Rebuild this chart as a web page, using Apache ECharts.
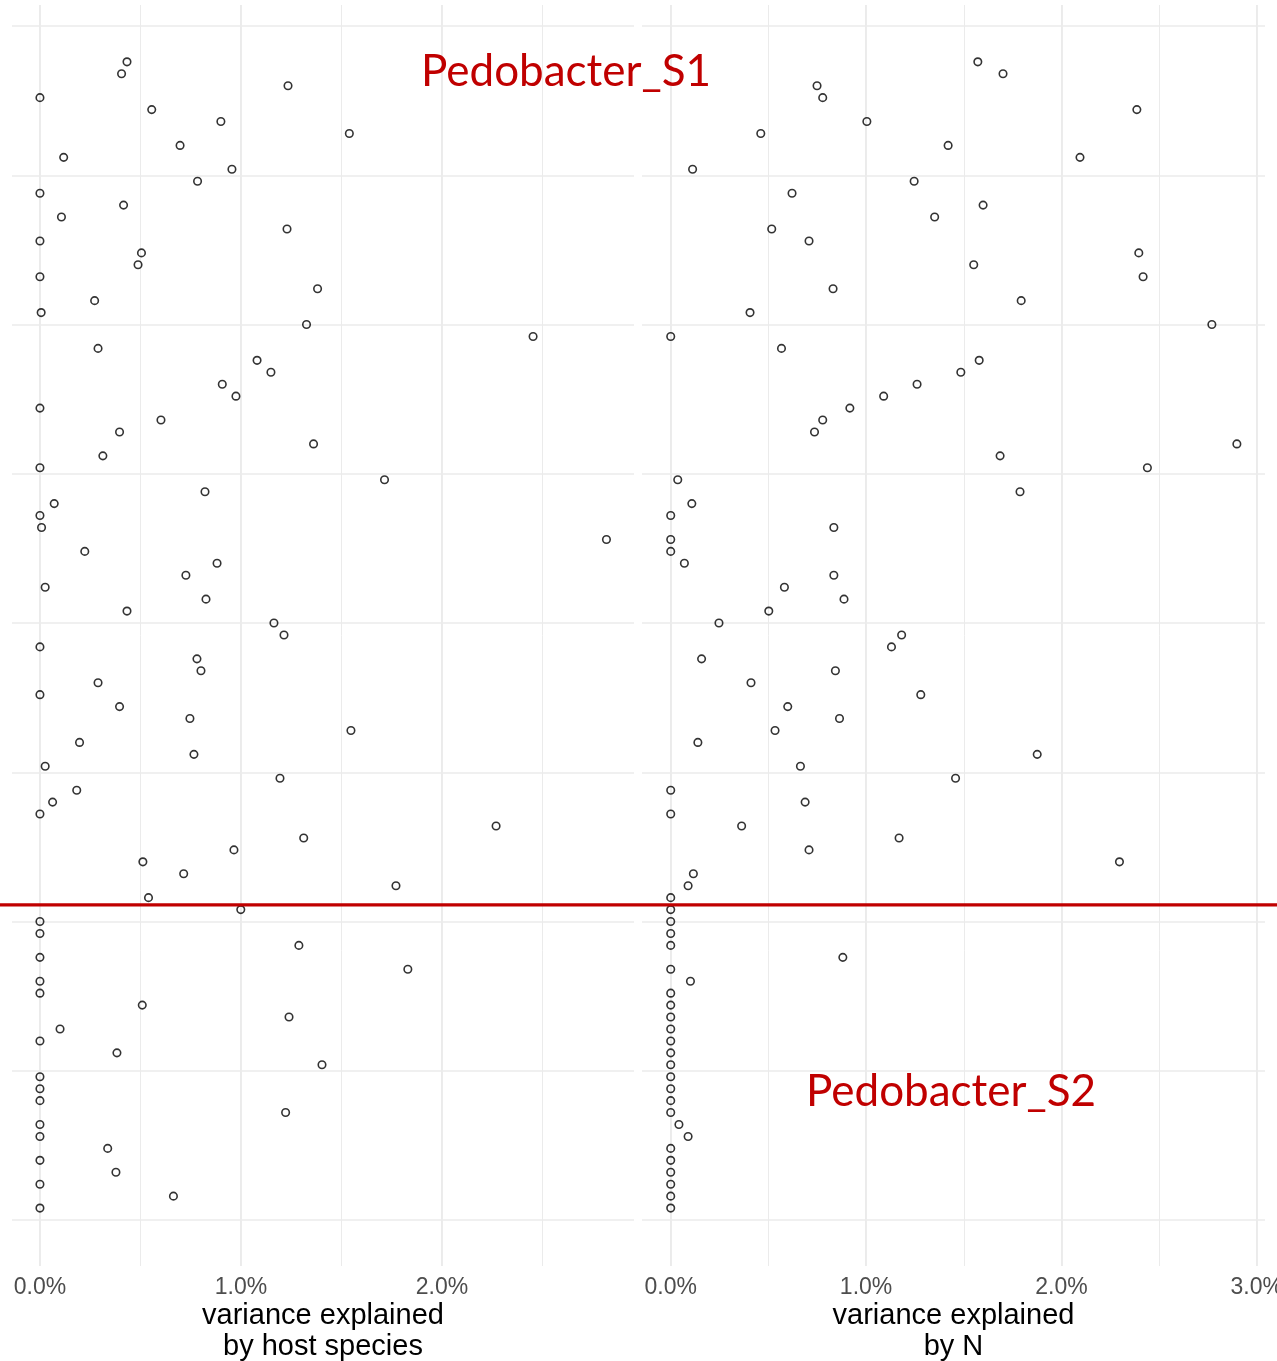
<!DOCTYPE html>
<html>
<head>
<meta charset="utf-8">
<script src="https://cdn.jsdelivr.net/npm/echarts@6/dist/echarts.min.js"></script>
<style>
html,body{margin:0;padding:0;background:#fff;overflow:hidden;}
#chart{width:1277px;height:1361px;}
</style>
</head>
<body>
<div id="chart"></div>
<script>
// variance explained by host species (%), rows top to bottom
const hostSpecies = [
  0.433, 0.406, 1.234, 0, 0.556, 0.900, 1.539, 0.697, 0.118, 0.955,
  0.784, 0, 0.416, 0.107, 1.229, 0, 0.505, 0.488, 0, 1.381,
  0.272, 0.006, 1.326, 2.453, 0.289, 1.080, 1.149, 0.907, 0.975, 0,
  0.602, 0.396, 1.361, 0.313, 0, 1.714, 0.821, 0.071, 0, 0.008,
  2.818, 0.223, 0.881, 0.726, 0.026, 0.826, 0.433, 1.164, 1.214, 0,
  0.781, 0.801, 0.289, 0, 0.396, 0.746, 1.547, 0.197, 0.766, 0.026,
  1.194, 0.183, 0.063, 0, 2.269, 1.312, 0.965, 0.512, 0.715, 1.771,
  0.540, 0.999, 0, 0, 1.288, 0, 1.830, 0, 0, 0.509,
  1.239, 0.100, 0, 0.383, 1.403, 0, 0, 0, 1.222, 0,
  0, 0.337, 0, 0.378, 0, 0.664, 0
];
// variance explained by N (%), rows top to bottom
const byN = [
  1.572, 1.701, 0.749, 0.778, 2.386, 1.004, 0.461, 1.420, 2.095, 0.112,
  1.246, 0.621, 1.599, 1.351, 0.517, 0.708, 2.396, 1.551, 2.418, 0.831,
  1.794, 0.406, 2.770, 0, 0.567, 1.579, 1.485, 1.261, 1.090, 0.917,
  0.778, 0.736, 2.898, 1.686, 2.440, 0.036, 1.788, 0.108, 0, 0.835,
  0, 0, 0.070, 0.835, 0.582, 0.887, 0.502, 0.247, 1.182, 1.130,
  0.158, 0.843, 0.411, 1.280, 0.599, 0.864, 0.534, 0.139, 1.876, 0.664,
  1.458, 0, 0.688, 0, 0.363, 1.169, 0.708, 2.297, 0.116, 0.089,
  0, 0, 0, 0, 0, 0.881, 0, 0.101, 0, 0,
  0, 0, 0, 0, 0, 0, 0, 0, 0, 0.042,
  0.089, 0, 0, 0, 0, 0, 0
];
// row positions on the vertical axis (top row = 97)
const rows = [
  97,96,95,94,93,92,91,90,89,88,87,86,85,84,83,82,81,80,79,78,
  77,76,75,74,73,72,71,70,69,68,67,66,65,64,63,62,61,60,59,58,
  57,56,55,54,53,52,51,50,49,48,47,46,45,44,43,42,41,40,39,38,
  37,36,35,34,33,32,31,30,29,28,27,26,25,24,23,22,21,20,19,18,
  17,16,15,14,13,12,11,10,9,8,7,6,5,4,3,2,1
];
const yBreaks = [0, 12.5, 25, 37.5, 50, 62.5, 75, 87.5, 100];
const leftMajorTicks = [0, 1, 2];
const leftMinorTicks = [0.5, 1.5, 2.5];
const rightMajorTicks = [0, 1, 2, 3];
const rightMinorTicks = [0.5, 1.5, 2.5];
const separatorRow = 26.4;
const xTitles = ['variance explained\nby host species', 'variance explained\nby N'];
const annotations = ['Pedobacter_S1', 'Pedobacter_S2'];

const GRID_COLOR = '#EBEBEB';
function gridLines(major, minor) {
  const d = [];
  yBreaks.forEach(v => d.push({yAxis: v, lineStyle: {color: GRID_COLOR, width: 1.6, type: 'solid'}}));
  major.forEach(v => d.push({xAxis: v, lineStyle: {color: GRID_COLOR, width: 1.9, type: 'solid'}}));
  minor.forEach(v => d.push({xAxis: v, lineStyle: {color: GRID_COLOR, width: 1.0, type: 'solid'}}));
  return {
    silent: true, z: 1, animation: false, symbol: ['none', 'none'],
    label: {show: false}, emphasis: {disabled: true},
    data: d
  };
}
function xAxisOf(idx, min, max, ticks) {
  return {
    type: 'value', gridIndex: idx, min: min, max: max,
    axisLine: {show: false}, axisTick: {show: false}, splitLine: {show: false},
    axisLabel: {
      customValues: ticks, showMinLabel: true, showMaxLabel: true, hideOverlap: false,
      formatter: v => v.toFixed(1) + '%',
      color: '#4D4D4D', fontSize: 23, fontFamily: 'Liberation Sans, Arial, sans-serif', margin: 10
    },
    name: xTitles[idx], nameLocation: 'middle', nameGap: 34, nameMoveOverlap: false,
    nameTextStyle: {color: '#000', fontSize: 29, lineHeight: 31, fontFamily: 'Liberation Sans, Arial, sans-serif', verticalAlign: 'top'}
  };
}
function yAxisOf(idx) {
  return {
    type: 'value', gridIndex: idx, min: -3.85, max: 101.76,
    axisLine: {show: false}, axisTick: {show: false}, axisLabel: {show: false}, splitLine: {show: false}
  };
}
const pointStyle = {color: 'rgba(255,255,255,0)', borderColor: '#000', borderWidth: 1.6};

const chart = echarts.init(document.getElementById('chart'), null, {renderer: 'canvas'});
chart.setOption({
  animation: false,
  backgroundColor: '#fff',
  grid: [
    {left: 12, right: 643, top: 5, bottom: 95, containLabel: false, outerBoundsMode: 'none'},
    {left: 642, right: 12, top: 5, bottom: 95, containLabel: false, outerBoundsMode: 'none'}
  ],
  xAxis: [
    xAxisOf(0, -0.139, 2.955, leftMajorTicks),
    xAxisOf(1, -0.147, 3.042, rightMajorTicks)
  ],
  yAxis: [yAxisOf(0), yAxisOf(1)],
  series: [
    {
      type: 'scatter', xAxisIndex: 0, yAxisIndex: 0, z: 2,
      symbol: 'circle', symbolSize: 7.5, itemStyle: pointStyle,
      data: hostSpecies.map((v, i) => [v, rows[i]]),
      markLine: gridLines(leftMajorTicks, leftMinorTicks)
    },
    {
      type: 'scatter', xAxisIndex: 1, yAxisIndex: 1, z: 2,
      symbol: 'circle', symbolSize: 7.5, itemStyle: pointStyle,
      data: byN.map((v, i) => [v, rows[i]]),
      markLine: gridLines(rightMajorTicks, rightMinorTicks)
    }
  ]
});

const sepY = chart.convertToPixel({gridIndex: 0}, [0, separatorRow])[1];
chart.setOption({
  graphic: [
    {type: 'line', z: 50, shape: {x1: 0, y1: sepY, x2: 1277, y2: sepY},
     style: {stroke: '#C00000', lineWidth: 3.2}},
    {type: 'text', z: 50, x: 421, y: 72,
     style: {text: annotations[0], fill: '#C00000', font: '44px Lato, sans-serif', verticalAlign: 'middle', align: 'left'}},
    {type: 'text', z: 50, x: 806, y: 1092,
     style: {text: annotations[1], fill: '#C00000', font: '44px Lato, sans-serif', verticalAlign: 'middle', align: 'left'}}
  ]
});
</script>
</body>
</html>
